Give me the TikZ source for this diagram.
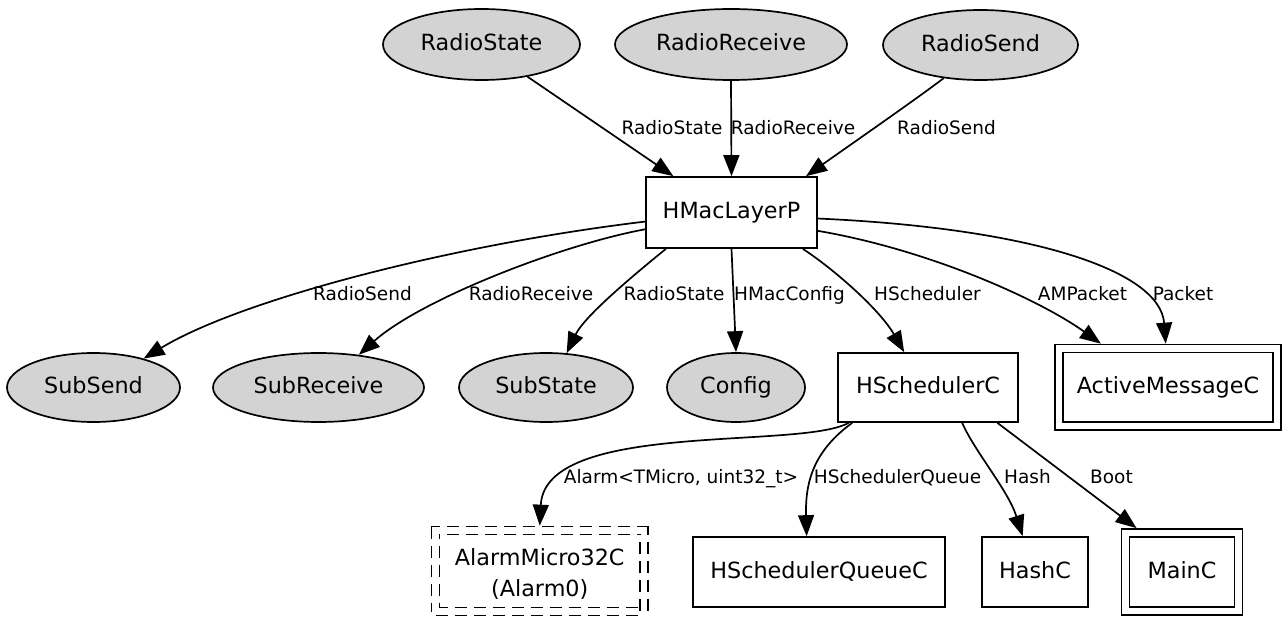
\documentclass[tikz,border=0pt]{standalone}
\usepackage{fontspec}
\setmainfont{DejaVu Sans}
\usetikzlibrary{arrows.meta,shapes.geometric}
\definecolor{ifacefill}{HTML}{D3D3D3}
\begin{document}
\begin{tikzpicture}[x=1pt,y=-1pt,
  every node/.style={font=\fontsize{22.3}{31.7}\selectfont, text=black},
  plainbox/.style={rectangle, draw, line width=1.7pt, inner sep=0pt},
  onetext/.style={text height=17pt, text depth=4.4pt},
  iface/.style={ellipse, draw, fill=ifacefill, line width=1.7pt, inner sep=0pt, onetext},
  comp/.style={plainbox, onetext},
  dblframe/.style={double, double distance=6.3pt, outer sep=4.85pt},
  dashframe/.style={dash pattern=on 12pt off 7pt},
  lbl/.style={font=\fontsize{18.5}{22}\selectfont, inner sep=0pt, text height=14pt, text depth=4pt},
  wire/.style={line width=1.7pt, -{Triangle[length=21pt,width=16pt]}}
]
\useasboundingbox (0,0) rectangle (1284,617);

% provided interfaces (top row)
\node[iface, minimum width=197pt, minimum height=71pt] (rstate) at (481.5,44.5) {RadioState};
\node[iface, minimum width=232pt, minimum height=71pt] (rrecv) at (731,44.5) {RadioReceive};
\node[iface, minimum width=195pt, minimum height=70pt] (rsend) at (980.5,45) {RadioSend};

% the MAC layer module
\node[comp, minimum width=171pt, minimum height=71pt] (hmac) at (731.5,212.5) {HMacLayerP};

% used interfaces and components (middle row)
\node[iface, minimum width=173pt, minimum height=69pt] (subsend) at (93.5,387.5) {SubSend};
\node[iface, minimum width=211pt, minimum height=69pt] (subrecv) at (318.5,387.5) {SubReceive};
\node[iface, minimum width=174pt, minimum height=69pt] (substate) at (546,387.5) {SubState};
\node[iface, minimum width=138pt, minimum height=69pt] (config) at (736,387.5) {Config};
\node[comp, minimum width=180pt, minimum height=69pt] (hsched) at (928,387.5) {HSchedulerC};
\node[comp, dblframe, minimum width=218pt, minimum height=77.5pt] (amc) at (1168,387.25) {ActiveMessageC};

% scheduler dependencies (bottom row)
\node[plainbox, dblframe, dashframe, align=center, minimum width=208.5pt, minimum height=81pt] (alarm) at (539.75,571)
  {\rule{0pt}{23pt}AlarmMicro32C\\(Alarm0)};
\node[comp, minimum width=252pt, minimum height=70pt] (hsq) at (819,572) {HSchedulerQueueC};
\node[comp, minimum width=106pt, minimum height=70pt] (hash) at (1035,572) {HashC};
\node[comp, dblframe, minimum width=113pt, minimum height=78pt] (mainc) at (1182,572) {MainC};

% wiring into HMacLayerP
\draw[wire] (rstate.-35) -- (hmac.148);
\draw[wire] (rrecv.south) -- (hmac.north);
\draw[wire] (rsend.222) .. controls (915,100) and (850,145) .. (hmac.26);

% wiring out of HMacLayerP
\draw[wire] (hmac.186) .. controls (450,245) and (240,300) .. (subsend.30);
\draw[wire] (hmac.191) .. controls (560,245) and (420,300) .. (subrecv.39);
\draw[wire] (hmac.209) .. controls (640,270) and (585,315) .. (substate.59);
\draw[wire] (hmac.south) -- (config.north);
\draw[wire] (hmac.-27) .. controls (835,270) and (880,310) .. (hsched.124);
\draw[wire] (hmac.-12) .. controls (930,250) and (1040,300) .. (amc.147);
\draw[wire] (hmac.-4) .. controls (1030,228) and (1160,270) .. (amc.93);

% wiring out of HSchedulerC
\draw[wire] (hsched.204) .. controls (800,450) and (545,420) .. (alarm.north);
\draw[wire] (hsched.205) .. controls (815,450) and (805,480) .. (hsq.109);
\draw[wire] (hsched.-46) .. controls (975,452) and (1008,490) .. (hash.109);
\draw[wire] (hsched.-27) -- (mainc.136);

% interface labels on the wires
\node[lbl] (lrstate) at (672,129.5) {RadioState};
\node[lbl] (lrrecv) at (793,129.5) {RadioReceive};
\node[lbl] (lrsend) at (946.5,129.5) {RadioSend};
\node[lbl] (lsubsend) at (362.5,296) {RadioSend};
\node[lbl] (lsubrecv) at (531,296) {RadioReceive};
\node[lbl] (lsubstate) at (674,296) {RadioState};
\node[lbl] (lconfig) at (789.5,296) {HMacConfig};
\node[lbl] (lhsched) at (927.5,296) {HScheduler};
\node[lbl] (lampkt) at (1082.5,296) {AMPacket};
\node[lbl] (lpkt) at (1183,296) {Packet};
\node[lbl] (lalarm) at (681,478) {Alarm<TMicro, uint32\_t>};
\node[lbl] (lhsq) at (897.5,478) {HSchedulerQueue};
\node[lbl] (lhash) at (1027.5,478) {Hash};
\node[lbl] (lboot) at (1111.5,478) {Boot};
\end{tikzpicture}
\end{document}
